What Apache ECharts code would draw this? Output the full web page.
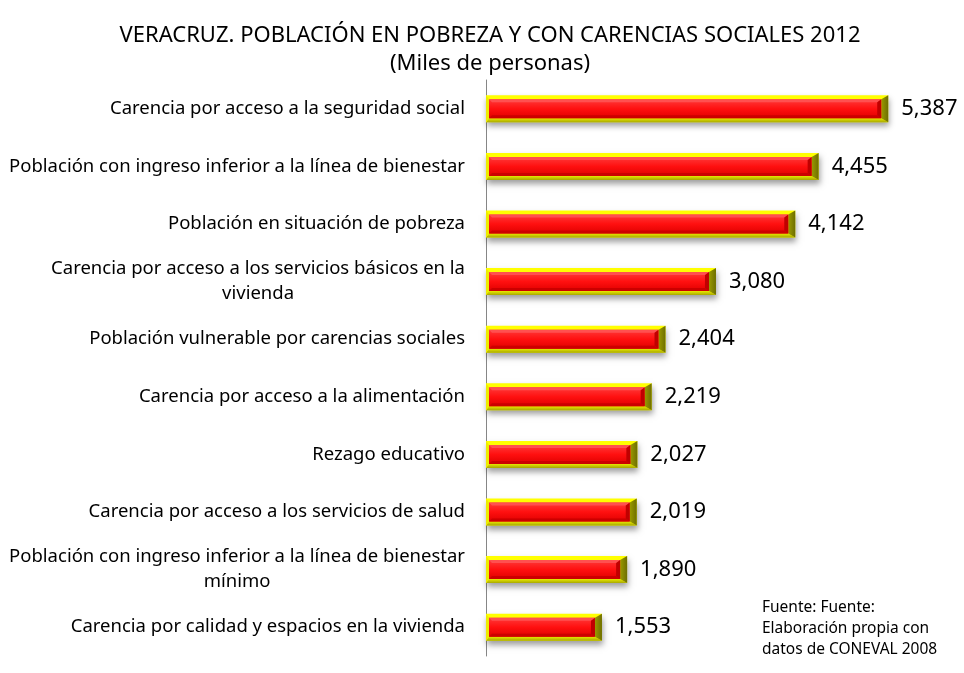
<!DOCTYPE html>
<html><head><meta charset="utf-8">
<script src="https://cdn.jsdelivr.net/npm/echarts@6/dist/echarts.min.js"></script>
<style>html,body{margin:0;padding:0;background:#fff}#c{width:964px;height:673px}</style>
</head><body><div id="c"></div>
<script>
var categories = [
  'Carencia por acceso a la seguridad social',
  'Población con ingreso inferior a la línea de bienestar',
  'Población en situación de pobreza',
  'Carencia por acceso a los servicios básicos en la\nvivienda',
  'Población vulnerable por carencias sociales',
  'Carencia por acceso a la alimentación',
  'Rezago educativo',
  'Carencia por acceso a los servicios de salud',
  'Población con ingreso inferior a la línea de bienestar\nmínimo',
  'Carencia por calidad y espacios en la vivienda'
];
var values = [5387, 4455, 4142, 3080, 2404, 2219, 2027, 2019, 1890, 1553];
var titleText = 'VERACRUZ. POBLACIÓN EN POBREZA Y CON CARENCIAS SOCIALES 2012\n(Miles de personas)';
var sourceText = 'Fuente: Fuente:\nElaboración propia con\ndatos de CONEVAL 2008';

var font = 'Noto Sans';
var LG = echarts.graphic.LinearGradient;

function renderBar(params, api) {
  var v = api.value(0), idx = api.value(1);
  var s = api.coord([0, idx]);
  var e = api.coord([v, idx]);
  var H = 27;
  var x0 = s[0], x1 = e[0], cy = s[1];
  var t = cy - H / 2, b = cy + H / 2;
  var bl = 3, bt = 4, bb = 4, br = 7;
  var ix0 = x0 + bl, ix1 = x1 - br, it = t + bt, ib = b - bb;
  return {
    type: 'group',
    children: [
      {type: 'rect', shape: {x: x0, y: t, width: x1 - x0, height: H},
        style: {fill: '#ffff00', shadowColor: 'rgba(0,0,0,0.38)', shadowBlur: 6, shadowOffsetY: 4, shadowOffsetX: 1}},
      {type: 'polygon', shape: {points: [[x0, b], [ix0, ib], [ix1, ib], [x1, b]]},
        style: {fill: new LG(0, 0, 0, 1, [{offset: 0, color: '#e8e800'}, {offset: 1, color: '#a8a800'}])}},
      {type: 'polygon', shape: {points: [[x0, t], [ix0, it], [ix0, ib], [x0, b]]},
        style: {fill: '#eded00'}},
      {type: 'polygon', shape: {points: [[x1, t], [ix1, it], [ix1, ib], [x1, b]]},
        style: {fill: new LG(0, 0, 1, 0, [{offset: 0, color: '#9a9a00'}, {offset: 1, color: '#6e6e00'}])}},
      {type: 'rect', shape: {x: ix0, y: it, width: Math.max(0, ix1 - ix0), height: ib - it},
        style: {fill: new LG(0, 0, 0, 1, [{offset: 0, color: '#ff3a3a'}, {offset: 0.5, color: '#ff1010'}, {offset: 1, color: '#e00000'}])}},
      {type: 'polygon', shape: {points: [[ix0, it], [ix1, it], [ix1 - 3, it + 3], [ix0 + 3, it + 3]]},
        style: {fill: '#ff5050'}},
      {type: 'polygon', shape: {points: [[ix0, ib], [ix0 + 3, ib - 3], [ix1 - 4, ib - 3], [ix1, ib]]},
        style: {fill: '#cc0000'}},
      {type: 'polygon', shape: {points: [[ix1, it], [ix1 - 4, it + 3], [ix1 - 4, ib - 3], [ix1, ib]]},
        style: {fill: '#c00000'}},
      {type: 'text', x: x1 + 13, y: cy,
        style: {text: v.toLocaleString('en-US'), fontFamily: font, fontSize: 22, fill: '#000',
          textAlign: 'left', textVerticalAlign: 'middle'}}
    ]
  };
}

var chart = echarts.init(document.getElementById('c'));
chart.setOption({
  animation: false,
  title: {
    text: titleText, left: 485, top: 17, textAlign: 'center',
    textStyle: {fontFamily: font, fontSize: 22, fontWeight: 'normal', color: '#000', lineHeight: 28}
  },
  graphic: [{
    type: 'text', left: 762, top: 597,
    style: {text: sourceText, fontFamily: font, fontSize: 15.5, lineHeight: 21, fill: '#000'}
  }],
  grid: {left: 486, top: 80, width: 448, height: 576, containLabel: false},
  xAxis: {type: 'value', min: 0, max: 6000, show: false},
  yAxis: {
    type: 'category', data: categories, inverse: true,
    axisLine: {show: true, lineStyle: {color: '#868686', width: 1}},
    axisTick: {show: false},
    axisLabel: {
      margin: 21, fontFamily: font, fontSize: 18.5, color: '#000', lineHeight: 25,
      formatter: function (v) {
        var p = v.split('\n');
        if (p.length === 1) return '{a|' + p[0] + '}';
        return '{a|' + p[0] + '}\n{c|' + p[1] + '}';
      },
      rich: {
        a: {fontFamily: font, fontSize: 18.5, color: '#000', lineHeight: 25},
        c: {fontFamily: font, fontSize: 18.5, color: '#000', lineHeight: 25, align: 'center'}
      }
    }
  },
  series: [{
    type: 'custom',
    data: values.map(function (v, i) { return [v, i]; }),
    encode: {x: 0, y: 1},
    renderItem: renderBar,
    z: 3
  }]
});
</script></body></html>
